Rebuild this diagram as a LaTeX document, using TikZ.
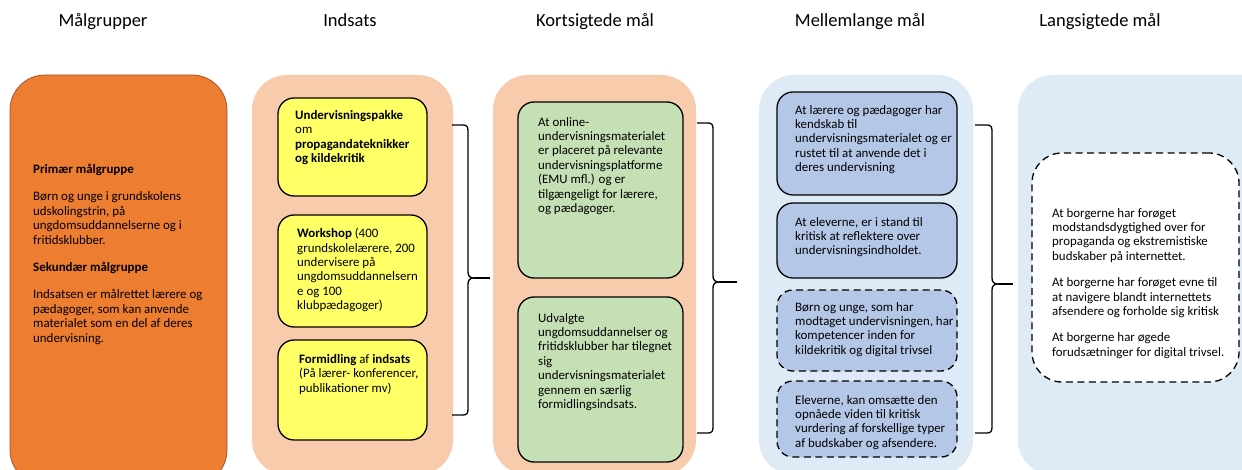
\documentclass[tikz,border=0pt]{standalone}
\usepackage{fontspec}
\setmainfont{Carlito}
\usetikzlibrary{fit}
\definecolor{orangeF}{HTML}{ED7D31}
\definecolor{orangeD}{HTML}{A0552A}
\definecolor{peach}{HTML}{F8CBAD}
\definecolor{yel}{HTML}{FFFF66}
\definecolor{grn}{HTML}{C5E0B4}
\definecolor{lblue}{HTML}{DEEBF7}
\definecolor{mblue}{HTML}{B4C7E7}
\begin{document}
\begin{tikzpicture}[x=1pt,y=-1pt,
  cont/.style={draw=none, rounded corners=35pt, inner sep=0pt},
  ibox/.style={draw=black, line width=1.3pt, rounded corners=16pt, inner sep=0pt},
  dbox/.style={ibox, dash pattern=on 7pt off 4.5pt},
  txt/.style={anchor=north west, inner sep=0pt, align=left, font=\fontsize{12.9}{14.4}\selectfont},
  ttl/.style={anchor=base, inner sep=0pt, font=\fontsize{18.5}{21}\selectfont},
  brace/.style={draw=black, line width=1.3pt}]
\useasboundingbox (0,0) rectangle (1242,470);
\clip (0,0) rectangle (1242,470);
\fill[white] (0,0) rectangle (1242,470);

% titles
\node[ttl] (t1) at (103,27) {Målgrupper};
\node[ttl] (t2) at (350,27) {Indsats};
\node[ttl] (t3) at (595,27) {Kortsigtede mål};
\node[ttl] (t4) at (860,27) {Mellemlange mål};
\node[ttl] (t5) at (1100,27) {Langsigtede mål};

% containers
\node[cont, fill=orangeF, draw=orangeD, line width=0.8pt, fit={(10,75) (227,485)}] (c1) {};
\node[cont, fill=peach, fit={(252,75) (453,475)}] (c2) {};
\node[cont, fill=peach, fit={(493,75) (696,475)}] (c3) {};
\node[cont, fill=lblue, fit={(759,75) (973,475)}] (c4) {};
\node[cont, fill=lblue, fit={(1018,75) (1280,475)}] (c5) {};

% inner boxes
\node[ibox, fill=yel, fit={(278,98) (427,196)}] (y1) {};
\node[ibox, fill=yel, fit={(278,215) (427,327)}] (y2) {};
\node[ibox, fill=yel, fit={(278,340) (427,440)}] (y3) {};
\node[ibox, fill=grn, fit={(518,102) (683,278)}] (g1) {};
\node[ibox, fill=grn, fit={(518,297) (683,462)}] (g2) {};
\node[ibox, fill=mblue, fit={(777,92) (957,195)}] (m1) {};
\node[ibox, fill=mblue, fit={(777,203) (957,278)}] (m2) {};
\node[dbox, fill=mblue, fit={(777,290) (957,371)}] (m3) {};
\node[dbox, fill=mblue, fit={(777,381) (957,457)}] (m4) {};
\node[dbox, fill=white, rounded corners=30pt, fit={(1032,153) (1239,382)}] (l1) {};

% texts
\node[txt] (tx1) at (33,164) {\textbf{Primær målgruppe}\\[13pt]
Børn og unge i grundskolens\\
udskolingstrin, på\\
ungdomsuddannelserne og i\\
fritidsklubber.\\[13pt]
\textbf{Sekundær målgruppe}\\[13pt]
Indsatsen er målrettet lærere og\\
pædagoger, som kan anvende\\
materialet som en del af deres\\
undervisning.};

\node[txt] (ty1) at (295,110) {\textbf{Undervisningspakke}\\ om\\ \textbf{propagandateknikker}\\ \textbf{og kildekritik}};
\node[txt] (ty2) at (297,228) {\textbf{Workshop} (400\\ grundskolelærere, 200\\ undervisere på\\ ungdomsuddannelsern\\ e og 100\\ klubpædagoger)};
\node[txt] (ty3) at (299,354) {\textbf{Formidling} af \textbf{indsats}\\ (På lærer- konferencer,\\ publikationer mv)};

\node[txt] (tg1) at (538,117) {At online-\\ undervisningsmaterialet\\ er placeret på relevante\\ undervisningsplatforme\\ (EMU mfl.) og er\\ tilgængeligt for lærere,\\ og pædagoger.};
\node[txt] (tg2) at (538,313) {Udvalgte\\ ungdomsuddannelser og\\ fritidsklubber har tilegnet\\ sig\\ undervisningsmaterialet\\ gennem en særlig\\ formidlingsindsats.};

\node[txt] (tm1) at (795,105) {At lærere og pædagoger har\\ kendskab til\\ undervisningsmaterialet og er\\ rustet til at anvende det i\\ deres undervisning};
\node[txt] (tm2) at (795,217) {At eleverne, er i stand til\\ kritisk at reflektere over\\ undervisningsindholdet.};
\node[txt] (tm3) at (795,302) {Børn og unge, som har\\ modtaget undervisningen, har\\ kompetencer inden for\\ kildekritik og digital trivsel};
\node[txt] (tm4) at (795,395) {Eleverne, kan omsætte den\\ opnåede viden til kritisk\\ vurdering af forskellige typer\\ af budskaber og afsendere.};

\node[txt] (tl1) at (1052,208) {At borgerne har forøget\\ modstandsdygtighed over for\\ propaganda og ekstremistiske\\ budskaber på internettet.\\[12pt]
At borgerne har forøget evne til\\ at navigere blandt internettets\\ afsendere og forholde sig kritisk\\[12pt]
At borgerne har øgede\\ forudsætninger for digital trivsel.};

% braces
\coordinate (b1a) at (452,125); \coordinate (b1b) at (452,415); \coordinate (b1t) at (490,278);
\coordinate (b2a) at (697,123); \coordinate (b2b) at (697,433); \coordinate (b2t) at (737,282);
\coordinate (b3a) at (975,125); \coordinate (b3b) at (975,433); \coordinate (b3t) at (1013,284);

\draw[brace] (b1a) -- (463,125) .. controls (467,125) and (468,127) .. (468,131) -- (468,272)
  .. controls (468,276) and (470,278) .. (474,278) .. controls (470,278) and (468,280) .. (468,284)
  -- (468,409) .. controls (468,413) and (467,415) .. (463,415) -- (b1b);
\draw[brace] (474,278) -- (b1t);

\draw[brace] (b2a) -- (708,123) .. controls (712,123) and (713,125) .. (713,129) -- (713,276)
  .. controls (713,280) and (715,282) .. (719,282) .. controls (715,282) and (713,284) .. (713,288)
  -- (713,427) .. controls (713,431) and (712,433) .. (708,433) -- (b2b);
\draw[brace] (719,282) -- (b2t);

\draw[brace] (b3a) -- (987,125) .. controls (991,125) and (992,127) .. (992,131) -- (992,278)
  .. controls (992,282) and (994,284) .. (998,284) .. controls (994,284) and (992,286) .. (992,290)
  -- (992,427) .. controls (992,431) and (991,433) .. (987,433) -- (b3b);
\draw[brace] (998,284) -- (b3t);
\end{tikzpicture}
\end{document}
